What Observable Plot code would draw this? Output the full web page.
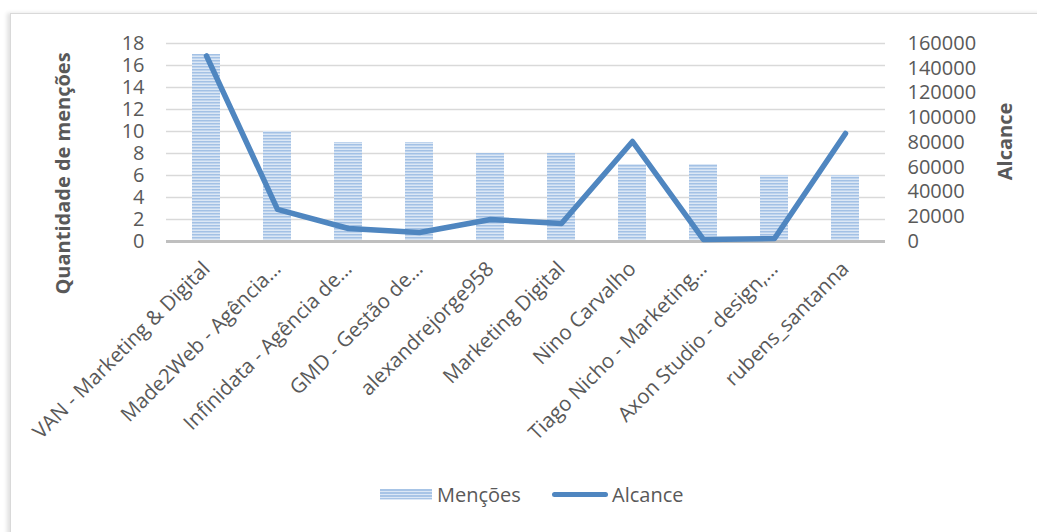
<!DOCTYPE html>
<html>
<head>
<meta charset="utf-8">
<script src="https://cdn.jsdelivr.net/npm/d3@7"></script>
<script src="https://cdn.jsdelivr.net/npm/@observablehq/plot@0.6"></script>
<style>
  html, body { margin: 0; padding: 0; background: #fff; width: 1037px; height: 532px; overflow: hidden; }
  #frame { position: absolute; left: 10px; top: 13px; width: 1040px; height: 540px; border: 1px solid #d9d9d9; box-shadow: -3px 0 4px rgba(0,0,0,0.12); background: #fff; }
  #chart { position: absolute; left: 0; top: 0; }
  #legend { position: absolute; top: 480px; left: 0; width: 1037px; font-family: "Open Sans", sans-serif; font-size: 20px; color: #595959; }
  .item { position: absolute; display: flex; align-items: center; height: 28px; }
  .sw-bar { width: 52px; height: 11px; background: repeating-linear-gradient(to bottom, #a7c4e6 0px, #a7c4e6 1.5px, #dbe7f5 1.5px, #dbe7f5 3px); margin-right: 5px; }
  .sw-line { width: 56px; height: 5px; border-radius: 3px; background: #4f86c0; margin-right: 4px; }
</style>
</head>
<body>
<div id="frame"></div>
<div id="chart"></div>
<div id="legend">
  <div class="item" style="left:380px"><span class="sw-bar"></span><span id="lg0"></span></div>
  <div class="item" style="left:552px"><span class="sw-line"></span><span id="lg1"></span></div>
</div>
<script>
const categories = [
  "VAN - Marketing & Digital",
  "Made2Web - Agência…",
  "Infinidata - Agência de…",
  "GMD - Gestão de…",
  "alexandrejorge958",
  "Marketing Digital",
  "Nino Carvalho",
  "Tiago Nicho - Marketing…",
  "Axon Studio - design,…",
  "rubens_santanna"
];
const mencoes = [17, 10, 9, 9, 8, 8, 7, 7, 6, 6];
const alcance = [150000, 26000, 10500, 7300, 17800, 14500, 80800, 1600, 2400, 87300];
const leftTicks = [0, 2, 4, 6, 8, 10, 12, 14, 16, 18];
const rightTicks = [0, 20000, 40000, 60000, 80000, 100000, 120000, 140000, 160000];
const seriesNames = ["Menções", "Alcance"];
const leftTitle = "Quantidade de menções";
const rightTitle = "Alcance";

const yMax = 18, aMax = 160000;
const toY = v => v * yMax / aMax;

const data = categories.map((c, i) => ({name: c, mencoes: mencoes[i], alcance: alcance[i]}));

const W = 1037, H = 470;
const plot = Plot.plot({
  width: W,
  height: H,
  marginLeft: 166,
  marginRight: 152,
  marginTop: 43,
  marginBottom: 229,
  style: {fontFamily: "Open Sans, sans-serif", fontSize: "20px", color: "#595959", background: "transparent", overflow: "visible"},
  x: {domain: categories, paddingInner: 0.61, paddingOuter: 0.305, label: null},
  y: {domain: [0, yMax], label: null},
  marks: [
    Plot.ruleY(leftTicks.filter(d => d > 0), {stroke: "#d9d9d9", strokeWidth: 1.5}),
    Plot.barY(data, {x: "name", y: "mencoes", fill: "url(#stripes)"}),
    Plot.ruleY([0], {stroke: "#bfbfbf", strokeWidth: 3}),
    Plot.line(data, {x: "name", y: d => toY(d.alcance), stroke: "#4f86c0", strokeWidth: 5.5, strokeLinejoin: "round", strokeLinecap: "round"}),
    Plot.axisY(leftTicks, {anchor: "left", tickSize: 0, tickPadding: 22, label: null, fill: "#595959", fontSize: 20}),
    Plot.axisY(rightTicks.map(toY), {anchor: "right", tickSize: 0, tickPadding: 22, label: null, fill: "#595959", fontSize: 20, tickFormat: d => String(Math.round(d * aMax / yMax))}),
    Plot.axisX({tickRotate: -45, tickSize: 0, tickPadding: 24, label: null, fill: "#595959", fontSize: 20.5}),
    Plot.text([leftTitle], {frameAnchor: "left", textAnchor: "middle", dx: -103, dy: 31, rotate: -90, fontWeight: "bold", fill: "#595959", fontSize: 20}),
    Plot.text([rightTitle], {frameAnchor: "right", textAnchor: "middle", dx: 120, dy: -1, rotate: -90, fontWeight: "bold", fill: "#595959", fontSize: 20})
  ]
});

// stripes pattern for bars
const ns = "http://www.w3.org/2000/svg";
const defs = document.createElementNS(ns, "defs");
defs.innerHTML = `<pattern id="stripes" patternUnits="userSpaceOnUse" width="8" height="3">
  <rect x="0" y="0" width="8" height="3" fill="#dbe7f5"/>
  <rect x="0" y="0" width="8" height="1.5" fill="#a3c1e5"/>
</pattern>`;
plot.insertBefore(defs, plot.firstChild);
document.getElementById("chart").appendChild(plot);
document.getElementById("lg0").textContent = seriesNames[0];
document.getElementById("lg1").textContent = seriesNames[1];
</script>
</body>
</html>
